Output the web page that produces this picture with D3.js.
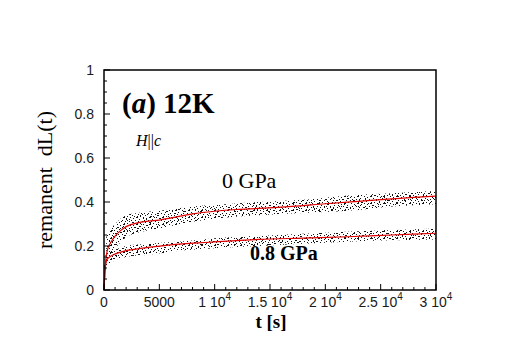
<!DOCTYPE html>
<html>
<head>
    <meta charset="utf-8">
    <title>remanent dL(t)</title>
    <script src="https://d3js.org/d3.v7.min.js"></script>
    <style>
        html, body {
            margin: 0;
            padding: 0;
            background: white;
        }
        .tick-label {
            font-family: "Liberation Sans", Arial, sans-serif;
            font-size: 14px;
            fill: #1a1a1a;
        }
        .serif {
            font-family: "Liberation Serif", "Times New Roman", serif;
            fill: #000;
        }
    </style>
</head>
<body>
<div id="chart"></div>
<script>
    // fit curves (red)
    const fitTimes0 = [0, 100, 300, 600, 1000, 1500, 2000, 3000, 4000, 5000, 6000, 8000, 10000, 12000, 14000, 17000, 20000, 23000, 26000, 28000, 30000];
    const fitValues0 = [0, 0.10, 0.18, 0.215, 0.245, 0.27, 0.288, 0.305, 0.313, 0.318, 0.327, 0.346, 0.358, 0.366, 0.371, 0.38, 0.392, 0.403, 0.414, 0.421, 0.427];

    const fitTimes08 = [0, 100, 250, 500, 850, 1500, 2000, 3500, 6000, 9500, 14000, 18000, 22000, 26000, 30000];
    const fitValues08 = [0, 0.09, 0.136, 0.15, 0.16, 0.172, 0.179, 0.19, 0.205, 0.217, 0.23, 0.236, 0.242, 0.25, 0.258];

    // extent of the measured point clouds (lower / upper edge)
    const bandTimes0 = [200, 500, 1000, 2000, 3000, 5000, 8000, 11000, 14000, 18000, 22000, 26000, 30000];
    const bandLow0 = [0.12, 0.16, 0.19, 0.24, 0.26, 0.28, 0.31, 0.33, 0.34, 0.35, 0.36, 0.38, 0.39];
    const bandHigh0 = [0.24, 0.27, 0.30, 0.34, 0.35, 0.36, 0.38, 0.39, 0.40, 0.41, 0.43, 0.44, 0.45];

    const bandTimes08 = [0, 100, 300, 800, 2000, 4000, 7000, 10000, 14000, 20000, 25000, 30000];
    const bandLow08 = [0, 0.06, 0.11, 0.13, 0.15, 0.16, 0.18, 0.19, 0.20, 0.215, 0.225, 0.23];
    const bandHigh08 = [0.12, 0.15, 0.17, 0.18, 0.20, 0.21, 0.22, 0.235, 0.245, 0.26, 0.27, 0.28];

    const yTicks = [0, 0.2, 0.4, 0.6, 0.8, 1];
    const xTicks = [0, 5000, 10000, 15000, 20000, 25000, 30000];
    const xTickText = [["0", ""], ["5000", ""], ["1 10", "4"], ["1.5 10", "4"], ["2 10", "4"], ["2.5 10", "4"], ["3 10", "4"]];

    const width = 506, height = 337;
    const plotLeft = 104, plotRight = 436, plotTop = 70, plotBottom = 290;

    const svg = d3.select("#chart").append("svg")
        .attr("width", width)
        .attr("height", height);

    const x = d3.scaleLinear().domain([0, 30000]).range([plotLeft, plotRight]);
    const y = d3.scaleLinear().domain([0, 1]).range([plotBottom, plotTop]);

    // two dot textures with different periods, layered so the cloud looks less regular
    const defs = svg.append("defs");
    function makePattern(id, w, h, spots) {
        const p = defs.append("pattern")
            .attr("id", id)
            .attr("patternUnits", "userSpaceOnUse")
            .attr("width", w).attr("height", h);
        spots.forEach(s => {
            p.append("rect").attr("x", s[0]).attr("y", s[1])
                .attr("width", s[2] || 1).attr("height", 1).attr("fill", "#111");
        });
    }
    makePattern("dotsA", 13, 7, [[0,0],[3,1],[6,0,2],[9,2],[1,3],[5,3],[8,4],[12,4],[2,5],[7,6],[10,6]]);
    makePattern("dotsB", 17, 11, [[2,1],[8,0],[13,2,2],[5,4],[11,5],[15,7],[1,8],[7,9],[10,10],[4,6]]);

    function drawBand(times, lo, hi) {
        const pts = times.map((t, i) => ({t, lo: lo[i], hi: hi[i]}));
        const area = d3.area()
            .x(d => x(d.t))
            .y0(d => y(d.lo))
            .y1(d => y(d.hi))
            .curve(d3.curveMonotoneX);
        ["dotsA", "dotsB"].forEach(id => {
            svg.append("path")
                .datum(pts)
                .attr("fill", `url(#${id})`)
                .attr("d", area);
        });
    }
    drawBand(bandTimes0, bandLow0, bandHigh0);
    drawBand(bandTimes08, bandLow08, bandHigh08);

    function drawFit(times, vals) {
        const pts = times.map((t, i) => ({t, v: vals[i]}));
        svg.append("path")
            .datum(pts)
            .attr("fill", "none")
            .attr("stroke", "#e00000")
            .attr("stroke-width", 1.2)
            .attr("d", d3.line().x(d => x(d.t)).y(d => y(d.v)).curve(d3.curveMonotoneX));
    }
    drawFit(fitTimes0, fitValues0);
    drawFit(fitTimes08, fitValues08);

    // frame
    svg.append("rect")
        .attr("x", plotLeft).attr("y", plotTop)
        .attr("width", plotRight - plotLeft).attr("height", plotBottom - plotTop)
        .attr("fill", "none").attr("stroke", "#000").attr("stroke-width", 1.5);

    // inward ticks
    const yMinor = d3.range(0, 1.0001, 0.05);
    svg.selectAll(".ytick").data(yMinor).enter().append("line")
        .attr("x1", plotLeft).attr("x2", (d, i) => plotLeft + (i % 4 === 0 ? 6 : 3))
        .attr("y1", d => y(d)).attr("y2", d => y(d))
        .attr("stroke", "#000").attr("stroke-width", 1);

    const xMinor = d3.range(0, 30001, 1000);
    svg.selectAll(".xtick").data(xMinor).enter().append("line")
        .attr("x1", d => x(d)).attr("x2", d => x(d))
        .attr("y1", plotBottom).attr("y2", (d, i) => plotBottom - (i % 5 === 0 ? 6 : 3))
        .attr("stroke", "#000").attr("stroke-width", 1);

    svg.selectAll(".ylab").data(yTicks).enter().append("text")
        .attr("class", "tick-label")
        .attr("x", 94).attr("y", d => y(d) + 5)
        .attr("text-anchor", "end")
        .text(d => d === 0 || d === 1 ? d : d.toFixed(1));

    const xl = svg.selectAll(".xlab").data(xTicks).enter().append("text")
        .attr("class", "tick-label")
        .attr("x", d => x(d)).attr("y", 307)
        .attr("text-anchor", "middle");
    xl.append("tspan").text((d, i) => xTickText[i][0]);
    xl.append("tspan").attr("dy", -7).style("font-size", "10px").text((d, i) => xTickText[i][1]);

    // axis titles
    svg.append("text").attr("class", "serif")
        .attr("x", 271).attr("y", 328)
        .attr("text-anchor", "middle")
        .style("font-size", "19px").style("font-weight", "bold")
        .text("t [s]");

    svg.append("text").attr("class", "serif")
        .attr("transform", "translate(52,180) rotate(-90)")
        .attr("text-anchor", "middle")
        .style("font-size", "22px").style("white-space", "pre")
        .text("remanent  dL(t)");

    // annotations
    const title = svg.append("text").attr("class", "serif")
        .attr("x", 122).attr("y", 113)
        .style("font-size", "29px").style("font-weight", "bold");
    title.append("tspan").text("(");
    title.append("tspan").style("font-style", "italic").text("a");
    title.append("tspan").text(") 12K");

    const hc = svg.append("text").attr("class", "serif")
        .attr("x", 136).attr("y", 146)
        .style("font-size", "16px");
    hc.append("tspan").style("font-style", "italic").text("H");
    hc.append("tspan").text("||");
    hc.append("tspan").style("font-style", "italic").text("c");

    svg.append("text").attr("class", "serif")
        .attr("x", 222).attr("y", 188)
        .style("font-size", "22px")
        .text("0 GPa");

    svg.append("text").attr("class", "serif")
        .attr("x", 250).attr("y", 260)
        .style("font-size", "20px").style("font-weight", "bold")
        .text("0.8 GPa");
</script>
</body>
</html>
